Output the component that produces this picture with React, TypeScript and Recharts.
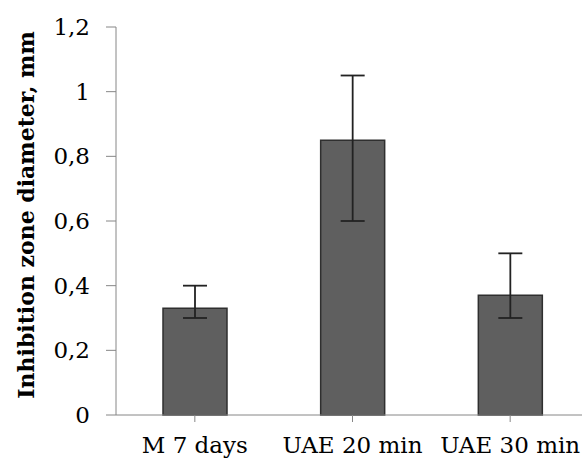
import { BarChart, Bar, XAxis, YAxis, ErrorBar, Label } from 'recharts'

const categories = ['M 7 days', 'UAE 20 min', 'UAE 30 min']
const means = [0.33, 0.85, 0.37]
const errLow = [0.03, 0.25, 0.07]
const errHigh = [0.07, 0.2, 0.13]
const yTicks = [0, 0.2, 0.4, 0.6, 0.8, 1, 1.2]

const chartData = categories.map((name, i) => ({
  name,
  value: means[i],
  err: [errLow[i], errHigh[i]],
}))

const FONT = '"DejaVu Serif", "Liberation Serif", serif'
const AXIS = '#868686'

const formatTick = (v: number) => String(v).replace('.', ',')

export default function App() {
  return (
    <div style={{ position: 'absolute', left: 0, top: 0, width: 582, height: 461, overflow: 'hidden', background: '#fff' }}>
      <BarChart
        width={590}
        height={461}
        data={chartData}
        margin={{ top: 27, right: 1, left: 0, bottom: 6 }}
        barSize={64}
      >
        <XAxis
          dataKey="name"
          height={40}
          stroke={AXIS}
          tickSize={7}
          tickMargin={15}
          tick={{ fill: '#000', fontSize: 23, fontFamily: FONT }}
          interval={0}
        />
        <YAxis
          width={116}
          domain={[0, 1.2]}
          ticks={yTicks}
          tickFormatter={formatTick}
          stroke={AXIS}
          tickSize={10}
          tickMargin={16}
          tick={{ fill: '#000', fontSize: 23, fontFamily: FONT }}
        >
          <Label
            content={({ viewBox }: any) => {
              const cx = 26
              const cy = viewBox.y + viewBox.height / 2 - 6
              return (
                <text
                  x={cx}
                  y={cy}
                  transform={`rotate(-90, ${cx}, ${cy})`}
                  textAnchor="middle"
                  dominantBaseline="central"
                  fontFamily={FONT}
                  fontWeight="bold"
                  fontSize={22}
                  fill="#000"
                >
                  Inhibition zone diameter, mm
                </text>
              )
            }}
          />
        </YAxis>
        <Bar dataKey="value" fill="#5f5f5f" stroke="#2f2f2f" strokeWidth={1.5} isAnimationActive={false}>
          <ErrorBar dataKey="err" width={12} stroke="#222" strokeWidth={1.8} />
        </Bar>
      </BarChart>
    </div>
  )
}
